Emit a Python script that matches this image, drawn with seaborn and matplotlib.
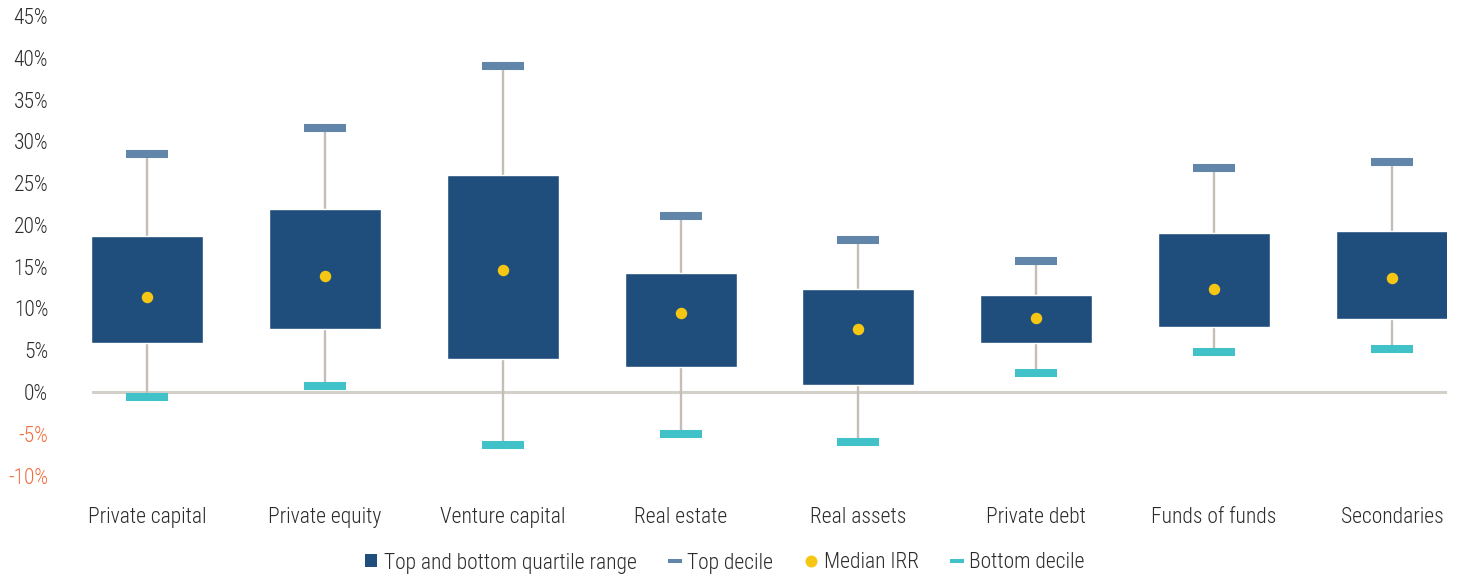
import numpy as np
import pandas as pd
import matplotlib.pyplot as plt
import seaborn as sns
from matplotlib import font_manager
from matplotlib.patches import Patch
from matplotlib.lines import Line2D

# IRR ranges by asset class (%)
categories = ["Private capital", "Private equity", "Venture capital", "Real estate",
              "Real assets", "Private debt", "Funds of funds", "Secondaries"]
top_decile = [28.5, 31.6, 39.0, 21.05, 18.2, 15.7, 26.8, 27.5]
top_quartile = [18.7, 21.9, 26.0, 14.2, 12.3, 11.6, 19.0, 19.3]
median_irr = [11.4, 13.9, 14.6, 9.45, 7.5, 8.85, 12.3, 13.6]
bottom_quartile = [5.9, 7.5, 4.0, 3.0, 0.85, 5.9, 7.8, 8.8]
bottom_decile = [-0.6, 0.7, -6.3, -5.0, -6.0, 2.3, 4.8, 5.1]
yticks = [-10, -5, 0, 5, 10, 15, 20, 25, 30, 35, 40, 45]

BOX = "#1F4E7D"
TOP = "#6286A9"
MED = "#F5C713"
BOT = "#40C2C8"
WHISK = "#C4BEB6"
ZERO = "#D3D0CA"
TXT = "#2B2B2B"
NEG = "#F26B3A"

sns.set_theme(style="white")
installed = {f.name for f in font_manager.fontManager.ttflist}
narrow = [n for n in ["Liberation Sans Narrow", "Roboto Condensed", "Open Sans Condensed",
                      "Lato"] if n in installed]
plt.rcParams["font.family"] = narrow[:1] + ["DejaVu Sans"]
plt.rcParams["font.weight"] = "light"
FS = 15.5

df = pd.DataFrame({
    "category": categories,
    "pos": np.arange(len(categories)),
    "top_decile": top_decile,
    "top_quartile": top_quartile,
    "median": median_irr,
    "bottom_quartile": bottom_quartile,
    "bottom_decile": bottom_decile,
})

fig = plt.figure(figsize=(14.61, 5.75), dpi=100)
ax = fig.add_axes([92 / 1461, 1 - 475.6 / 575, (1447 - 92) / 1461, (475.6 - 16) / 575])

ax.axhline(0, color=ZERO, lw=2.2, zorder=1)
ax.vlines(df["pos"], df["bottom_decile"], df["top_decile"], color=WHISK, lw=1.7, zorder=2)
ax.bar(df["pos"], df["top_quartile"] - df["bottom_quartile"], bottom=df["bottom_quartile"],
       width=0.63, color=BOX, zorder=3)
sns.scatterplot(data=df, x="pos", y="top_decile", marker="_", s=30.2 ** 2,
                linewidth=5.8, color=TOP, ax=ax, zorder=4, legend=False)
sns.scatterplot(data=df, x="pos", y="bottom_decile", marker="_", s=30.2 ** 2,
                linewidth=5.8, color=BOT, ax=ax, zorder=4, legend=False)
sns.scatterplot(data=df, x="pos", y="median", marker="o", s=68,
                linewidth=0, color=MED, ax=ax, zorder=5, legend=False)

ax.set_xlim(-0.31, len(categories) - 1 + 0.31)
ax.set_ylim(-10, 45)
ax.set_yticks(yticks)
ax.set_yticklabels([f"{t}%" for t in yticks])
for lab, t in zip(ax.get_yticklabels(), yticks):
    lab.set_color(NEG if t < 0 else TXT)
ax.set_xticks(df["pos"])
ax.set_xticklabels(categories)
ax.tick_params(axis="y", length=0, pad=31.5, labelsize=FS)
ax.tick_params(axis="x", length=0, pad=22.5, labelsize=FS, labelcolor=TXT)
ax.set_xlabel("")
ax.set_ylabel("")
sns.despine(ax=ax, left=True, bottom=True)
ax.grid(False)

handles = [
    Patch(facecolor=BOX, edgecolor="none"),
    Line2D([], [], marker="_", markersize=9.4, markeredgewidth=2.9, color=TOP, lw=0),
    Line2D([], [], marker="o", markersize=8.6, markeredgewidth=0, color=MED, lw=0),
    Line2D([], [], marker="_", markersize=9.4, markeredgewidth=2.9, color=BOT, lw=0),
]
labels = ["Top and bottom quartile range", "Top decile", "Median IRR", "Bottom decile"]
fig.legend(handles, labels, loc="center", bbox_to_anchor=(725 / 1461, 1 - 563 / 575),
           ncol=4, frameon=False, fontsize=FS, handlelength=0.55, handleheight=0.55,
           handletextpad=0.3, columnspacing=1.5, labelcolor=TXT)

fig.savefig("out.png", dpi=100)
